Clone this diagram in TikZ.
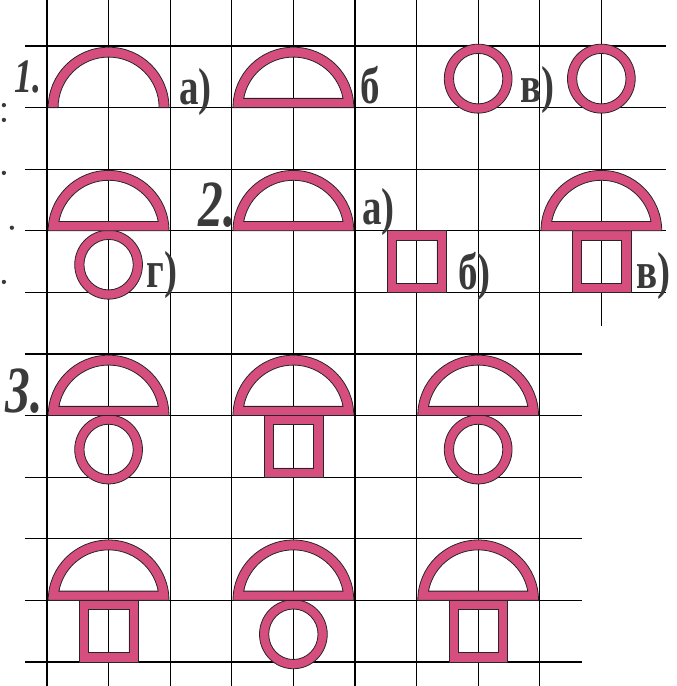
\documentclass[tikz,border=0pt]{standalone}
\usepackage{fontspec}
\newfontfamily\labfont[FakeStretch=0.75]{Liberation Serif}
\definecolor{mushpink}{RGB}{214,78,126}
\definecolor{labgray}{RGB}{58,58,58}
\begin{document}
\begin{tikzpicture}[x=61.6pt,y=61.6pt,
  gridline/.style={black,line width=1.1pt},
  band/.style={fill=mushpink,draw=black!85,line width=0.8pt,even odd rule},
  letter/.style={inner sep=0pt,text=labgray,font=\labfont\bfseries\fontsize{52}{52}\selectfont},
  number/.style={inner sep=0pt,text=labgray,font=\labfont\bfseries\itshape\fontsize{66}{66}\selectfont}]
  \useasboundingbox (-0.763,-0.390) rectangle (10.227,10.747);
  % Grid
  \foreach \k in {0,...,8}{
    \draw[gridline] (\k,-0.39) -- (\k,10.75);
  }
  \draw[gridline] (9,5.45) -- (9,10.75);
  \foreach \y in {6,...,10}{
    \draw[gridline] (-0.36,\y) -- (10.05,\y);
  }
  \foreach \y in {0,...,5}{
    \draw[gridline] (-0.36,\y) -- (8.68,\y);
  }
  % Dots left over from the page margin
  \foreach \p in {(-0.70,9.04),(-0.70,8.80),(-0.70,7.94),(-0.57,7.05),(-0.70,6.17)}{
    \fill[labgray] \p circle (0.035);
  }
  % Open arc (1 a)
  \path[band] (0.02,9) arc[start angle=180,end angle=0,radius=0.98]
    -- (1.82,9) arc[start angle=0,end angle=180,radius=0.82] -- cycle;
  % Rings
  \foreach \cx/\cy in {7/9.47,9/9.47,1/6.45,1/3.45,7/3.45,4/0.45}{
    \path[band] (\cx,\cy) ellipse[x radius=0.55,y radius=0.56]
      (\cx,\cy) ellipse[x radius=0.40,y radius=0.41];
  }
  % Stems
  \foreach \cx/\b in {6/7,9/7,4/4,1/1,7/1}{
    \path[band] (\cx-0.47,\b-1) rectangle (\cx+0.48,\b)
      (\cx-0.32,\b-0.85) rectangle (\cx+0.33,\b-0.15);
  }
  % Caps
  \foreach \cx/\b in {4/9,1/7,4/7,9/7,1/4,4/4,7/4,1/1,4/1,7/1}{
    \path[band] (\cx-0.98,\b) arc[start angle=180,end angle=0,radius=0.98] -- cycle
      (\cx+0.806,\b+0.15) arc[start angle=10.54,end angle=169.46,radius=0.82] -- cycle;
  }
  % Labels
  \node[number,font=\labfont\bfseries\itshape\fontsize{48}{48}\selectfont] (n1) at (-0.31,9.50) {1.};
  \node[letter] (la1) at (2.41,9.25) {а)};
  \node[letter] (lb1) at (5.25,9.37) {б};
  \node[letter] (lv1) at (7.97,9.29) {в)};
  \node[letter] (lg1) at (1.87,6.29) {г)};
  \node[number] (n2) at (2.76,7.41) {2.};
  \node[letter] (la2) at (5.38,7.31) {а)};
  \node[letter] (lb2) at (6.94,6.26) {б)};
  \node[letter] (lv2) at (9.84,6.26) {в)};
  \node[number] (n3) at (-0.37,4.39) {3.};
\end{tikzpicture}
\end{document}
